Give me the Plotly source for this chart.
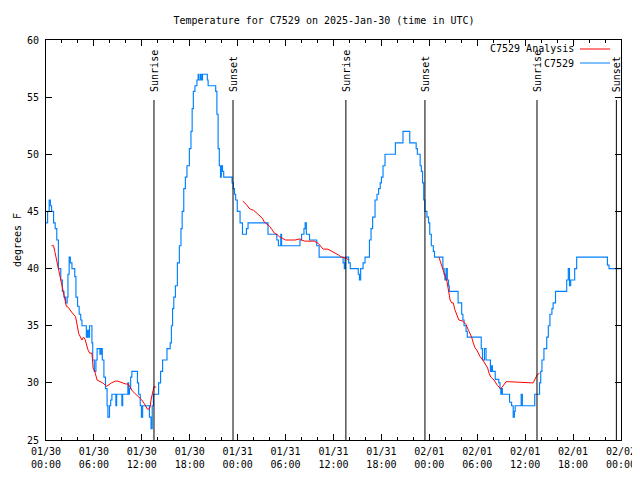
import datetime as dt
import plotly.graph_objects as go

BASE = dt.datetime(2025, 1, 30)

# Observed temperature (hours since 2025-01-30 00:00 UTC, degrees F), step data
obs_hours = [0.00, 0.20, 0.40, 0.55, 0.70, 0.95, 1.15, 1.35, 1.55, 1.85, 2.05, 2.25, 2.45, 2.65, 2.75,
             2.90, 3.05, 3.25, 3.60, 3.75, 3.95, 4.15, 4.35, 4.50, 5.05, 5.20, 5.35, 5.45, 5.75, 5.85,
             6.05, 6.25, 6.40, 6.75, 6.90, 7.05, 7.25, 7.45, 7.55, 7.65, 7.75, 7.95, 8.10, 8.25, 8.75,
             8.85, 9.40, 9.50, 9.60, 10.25, 10.35, 10.45, 10.60, 10.75, 11.45, 11.60, 11.80, 11.95, 12.10,
             12.95, 13.15, 13.30, 13.45, 14.10, 14.35, 14.60, 15.15, 15.55, 15.70, 15.85, 16.00, 16.20,
             16.45, 16.70, 16.90, 17.05, 17.25, 17.45, 17.65, 17.95, 18.15, 18.30, 18.45, 18.65, 18.90,
             19.05, 19.15, 19.35, 19.50, 19.60, 20.20, 20.30, 21.25, 21.40, 21.55, 21.70, 21.85, 21.95,
             22.10, 22.25, 23.30, 23.45, 23.60, 23.75, 23.95, 24.30, 24.60, 25.10, 25.30, 27.80, 28.90,
             29.10, 29.40, 29.50, 31.80, 32.00, 32.30, 32.45, 32.60, 33.00, 33.90, 34.20, 37.20, 37.35,
             37.45, 37.90, 38.10, 39.10, 39.25, 39.40, 39.70, 39.95, 40.50, 40.70, 40.90, 41.20, 41.45,
             41.65, 41.85, 42.00, 42.20, 42.45, 43.75, 44.70, 45.55, 46.35, 46.50, 46.85, 47.00, 47.15,
             47.30, 47.45, 47.70, 47.90, 48.05, 48.25, 48.50, 48.65, 49.70, 49.85, 49.95, 50.10, 50.25,
             50.40, 50.50, 51.60, 52.05, 52.20, 52.35, 52.60, 52.75, 54.50, 54.65, 54.90, 55.10, 55.65,
             55.80, 55.90, 56.25, 56.70, 56.85, 56.95, 57.05, 57.15, 58.05, 58.30, 58.50, 58.65, 58.75,
             59.50, 59.65, 61.20, 61.80, 61.95, 62.10, 62.35, 62.70, 62.90, 63.10, 63.35, 63.50, 63.80,
             65.20, 65.40, 65.55, 65.70, 66.20, 66.45, 70.30, 70.50, 72.00]
obs_temp = [44, 45, 46, 45.5, 45, 44, 43.5, 42.5, 40, 39, 38, 37.5, 37, 37.5, 39.5,
            41, 40.5, 40, 39.3, 37.5, 36.7, 36, 35.5, 35, 34, 34.6, 34, 35, 33.5, 32,
            31, 32, 33, 32.5, 33, 32, 30.5, 29.5, 29.5, 28, 27, 28, 28.5, 29, 28,
            29, 29, 28, 29, 30, 29, 29.5, 30.5, 31, 30, 29, 28, 27, 28,
            27, 26, 28, 29, 30, 31, 32, 33, 33.5, 35, 36.5, 37.5, 38.5,
            40.5, 42, 43.5, 45, 47, 48, 49, 50.5, 52, 54, 55.5, 56, 56.5,
            57, 56.5, 57, 56.5, 57, 56.5, 56, 55.5, 53.5, 50.5, 49, 48, 49,
            48.5, 48, 47.5, 47, 46.5, 46, 45, 44, 43, 43.5, 44, 43, 42.5,
            42, 43, 42, 42.5, 43, 43.5, 44, 43, 42.5, 42, 41, 40.5, 40,
            41, 40.5, 40, 39.5, 39, 40, 40.5, 41, 42.5, 43.5, 44.5, 46, 46.5,
            47, 47.5, 48, 49, 50, 51, 52, 51, 50.5, 50, 49, 48.5, 47.5,
            46, 45, 44.5, 44, 43, 42, 41.5, 41, 40, 39.5, 39, 40, 39,
            38.5, 38, 37, 36, 35.5, 35, 34.5, 34, 33, 32, 33, 32, 31,
            31.5, 31, 30.3, 30, 29.5, 29, 29.5, 29, 28.3, 28, 27, 27.5, 28,
            29, 28, 29, 30, 31, 32, 33, 34, 35, 36, 36.5, 37, 38,
            39, 40, 38.5, 39, 40, 41, 40.3, 40, 40]

# Analysis temperature (None marks gaps)
ana_hours = [0.70, 0.95, 1.10, 1.40, 1.70, 2.05, 2.30, 2.55, 2.80, 2.96, 3.30, 3.70, 3.90, 4.10, 4.50,
             4.70, 4.90, 5.07, 5.25, 5.47, 5.75, 5.90, 6.10, 6.40, 6.80, 7.10, 7.60, 7.90, 8.20, 8.70,
             9.00, 9.60, 10.00, 10.30, 10.50, 10.80, 11.10, 11.60, 12.00, 12.30, 12.50, 12.70, 12.90,
             13.05, 13.15, 13.25, 13.40, 13.55, 13.80, None,
             24.65, 24.85, 25.10, 25.40, 25.60, 26.00, 26.30, 26.70, 27.10, 27.30, 27.70, 28.00, 28.30,
             28.60, 28.90, 29.20, 29.60, 30.00, 30.50, 31.20, 31.80, 32.00, 32.40, 33.00, 33.60, 34.10,
             34.30, 34.70, 35.30, 35.60, 35.80, 36.20, 36.60, 37.00, 37.60, 37.90, None,
             49.20, 49.45, 49.80, 50.00, 50.20, 50.40, 50.60, 50.80, 51.00, 51.20, 51.45, 51.70, 52.20,
             52.60, 52.90, 53.10, 53.30, 53.50, 53.70, 54.00, 54.35, 54.70, 54.95, 55.30, 55.50, 55.70,
             56.10, 56.50, 56.90, 57.10, 57.30, 57.60, 58.00, 58.90, 59.70, 60.30, 60.80, 61.00, 61.30,
             61.50, 61.80]
ana_temp = [42.0, 42.0, 41.5, 40.5, 39.4, 38.4, 37.5, 36.7, 36.6, 36.4, 36.1, 35.8, 34.9, 34.3, 33.75,
            34.0, 33.8, 33.3, 32.9, 32.6, 32.6, 31.3, 31.0, 30.25, 30.1, 30.0, 29.7, 29.85, 30.0, 30.15,
            30.15, 30.0, 29.9, 29.9, 29.6, 29.3, 29.1, 28.8, 28.5, 28.2, 27.9, 27.7, 27.7,
            27.9, 28.5, 29.0, 29.3, 29.7, 29.6, None,
            45.9, 45.8, 45.6, 45.3, 45.2, 45.1, 44.9, 44.7, 44.4, 44.1, 43.9, 43.7, 43.4,
            43.1, 43.0, 42.8, 42.65, 42.5, 42.5, 42.5, 42.6, 42.5, 42.4, 42.4, 42.4, 42.2,
            42.0, 41.7, 41.7, 41.6, 41.5, 41.4, 41.2, 41.0, 40.9, 40.75, None,
            41.0, 40.4, 39.6, 39.3, 38.9, 38.2, 37.25, 37.0, 37.0, 36.4, 36.0, 35.5, 35.4,
            35.1, 34.6, 34.3, 34.0, 33.5, 33.1, 32.8, 32.3, 32.0, 31.7, 31.3, 30.8, 30.5,
            30.25, 29.8, 29.5, 29.6, 29.8, 30.1, 30.1, 30.05, 30.0, 30.0, 30.0, 30.0, 30.4,
            30.7, 30.85]

sun_hours = [13.52, 23.42, 37.55, 47.45, 61.48, 71.42]
sun_labels = ["Sunrise", "Sunset", "Sunrise", "Sunset", "Sunrise", "Sunset"]

tick_hours = [0, 6, 12, 18, 24, 30, 36, 42, 48, 54, 60, 66, 72]
tick_labels = ["01/30<br>00:00", "01/30<br>06:00", "01/30<br>12:00", "01/30<br>18:00",
               "01/31<br>00:00", "01/31<br>06:00", "01/31<br>12:00", "01/31<br>18:00",
               "02/01<br>00:00", "02/01<br>06:00", "02/01<br>12:00", "02/01<br>18:00",
               "02/02<br>00:00"]


def t(h):
    if h is None:
        return None
    return (BASE + dt.timedelta(hours=h)).strftime("%Y-%m-%d %H:%M:%S")


FONT = "DejaVu Sans Mono"
BLUE = "#0080ff"
RED = "#ff0000"

# page body has an 8px margin, so the figure is 8px smaller and shifted
W, H = 632, 472

fig = go.Figure()
fig.add_trace(go.Scatter(x=[t(h) for h in obs_hours], y=obs_temp, mode="lines",
                         line=dict(color=BLUE, width=1.15, shape="hv"), name="C7529",
                         showlegend=False))
fig.add_trace(go.Scatter(x=[t(h) for h in ana_hours], y=ana_temp, mode="lines",
                         line=dict(color=RED, width=1), name="C7529 Analysis",
                         connectgaps=False, showlegend=False))

shapes = []
annotations = []
for h, lab in zip(sun_hours, sun_labels):
    shapes.append(dict(type="line", xref="x", yref="paper", x0=t(h), x1=t(h), y0=0, y1=0.85,
                       line=dict(color="black", width=1)))
    annotations.append(dict(x=t(h), xref="x", y=0.865, yref="paper", text=lab, textangle=-90,
                            showarrow=False, xanchor="center", yanchor="bottom",
                            font=dict(family=FONT, size=10, color="black")))

# legend (text then line sample, as in the original)
for name, color, yp in [("C7529 Analysis", RED, 0.9775), ("C7529", BLUE, 0.9425)]:
    annotations.append(dict(x=0.921, xref="paper", y=yp, yref="paper", text=name, showarrow=False,
                            xanchor="right", yanchor="middle",
                            font=dict(family=FONT, size=10, color="black")))
    shapes.append(dict(type="line", xref="paper", yref="paper", x0=0.9287, x1=0.981, y0=yp, y1=yp,
                       line=dict(color=color, width=1)))

fig.update_layout(
    width=W, height=H,
    margin=dict(l=38, r=19, t=32, b=40, autoexpand=False),
    paper_bgcolor="white", plot_bgcolor="white",
    font=dict(family=FONT, size=10, color="black"),
    title=dict(text="Temperature for C7529 on 2025-Jan-30 (time in UTC)", x=0.5, xanchor="center",
               y=1 - 12 / H, yanchor="middle", font=dict(family=FONT, size=10, color="black")),
    showlegend=False,
    shapes=shapes,
    annotations=annotations,
)
fig.update_xaxes(range=[t(0), t(72)], tickvals=[t(h) for h in tick_hours], ticktext=tick_labels,
                 ticks="inside", ticklen=6, tickcolor="black", showline=True, linecolor="black",
                 linewidth=1, mirror="ticks", showgrid=False, zeroline=False, automargin=False,
                 minor=dict(dtick=2 * 3600 * 1000, ticks="inside", ticklen=3, tickcolor="black",
                            showgrid=False),
                 tickfont=dict(family=FONT, size=10), ticklabelstandoff=2)
fig.update_yaxes(range=[25, 60], dtick=5, ticks="inside", ticklen=6, tickcolor="black",
                 showline=True, linecolor="black", linewidth=1, mirror="ticks", showgrid=False,
                 zeroline=False, tickfont=dict(family=FONT, size=10), ticklabelstandoff=4,
                 automargin=False,
                 title=dict(text="degrees F", font=dict(family=FONT, size=10), standoff=3))

fig.write_html("out.html")
